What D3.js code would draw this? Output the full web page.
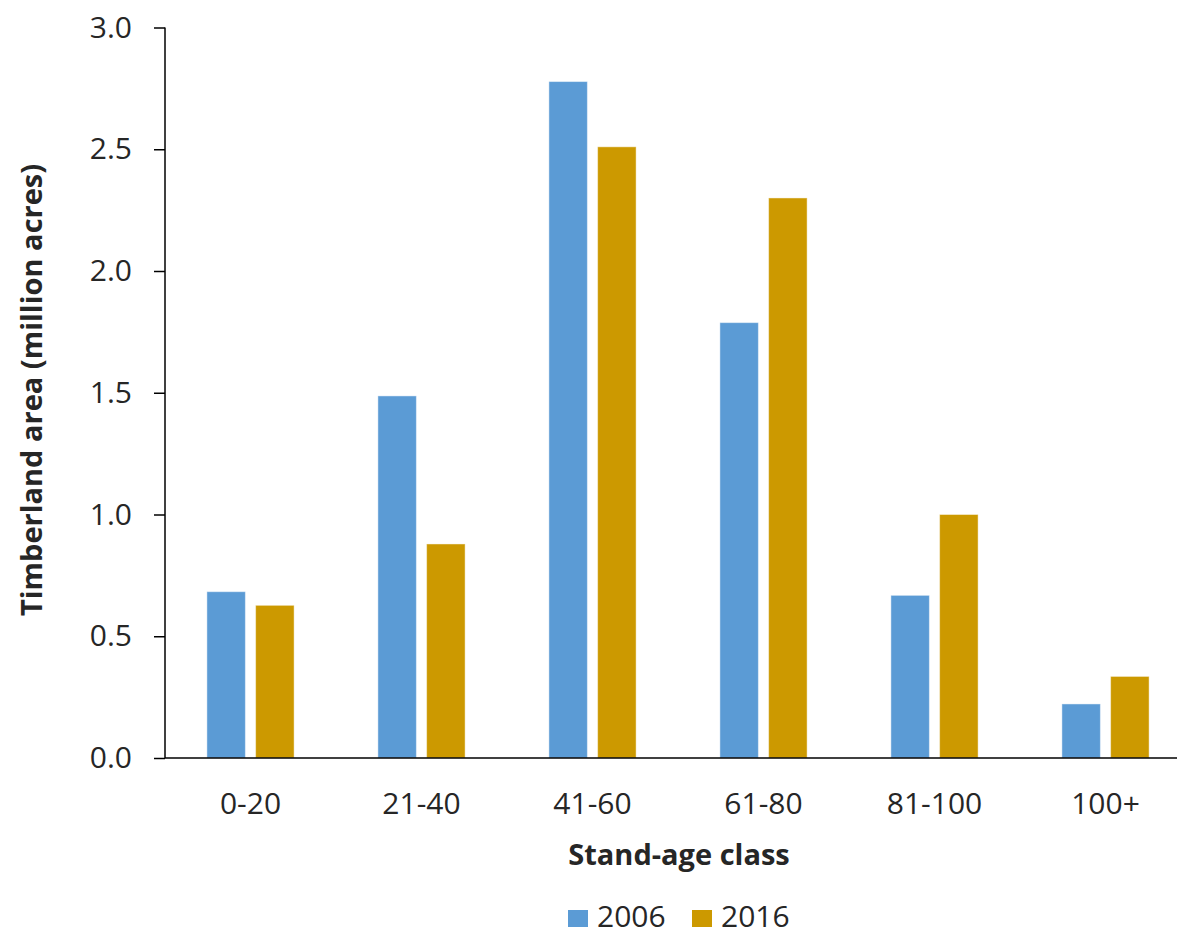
<!DOCTYPE html>
<html>
<head>
<meta charset="utf-8">
<script src="https://cdn.jsdelivr.net/npm/d3@7"></script>
<style>
  html, body { margin: 0; padding: 0; background: #fff; }
  svg { display: block; }
  text { font-family: "Open Sans", "Noto Sans", sans-serif; fill: #262626; }
</style>
</head>
<body>
<svg id="chart" width="1177" height="936"></svg>
<script>
// Timberland area by stand-age class, two inventory years
const categories = ["0-20", "21-40", "41-60", "61-80", "81-100", "100+"];
const seriesNames = ["2006", "2016"];
const values2006 = [0.683, 1.487, 2.778, 1.788, 0.668, 0.222];
const values2016 = [0.627, 0.879, 2.510, 2.300, 1.000, 0.335];
const yTicks = [0, 0.5, 1.0, 1.5, 2.0, 2.5, 3.0];
const colors = ["#5B9BD5", "#CC9900"];

const seriesValues = [values2006, values2016];
const rows = categories.map((c, i) => ({
  cat: c,
  vals: seriesNames.map((s, j) => ({ key: s, value: seriesValues[j][i], color: colors[j] }))
}));

const svg = d3.select("#chart");
const plotLeft = 165, plotRight = 1191, plotTop = 27.5, plotBottom = 758;
const labelSize = 30, titleSize = 29;

const x = d3.scaleBand().domain(categories).range([plotLeft, plotRight])
  .paddingInner(0.49).paddingOuter(0.245);
const x1 = d3.scaleBand().domain(seriesNames).range([0, x.bandwidth()]).paddingInner(0.21);
const y = d3.scaleLinear().domain([0, 3]).range([plotBottom, plotTop]);

// bars
const groups = svg.append("g").selectAll("g").data(rows).join("g")
  .attr("transform", d => `translate(${x(d.cat)},0)`);
groups.selectAll("rect").data(d => d.vals).join("rect")
  .attr("x", d => x1(d.key))
  .attr("width", x1.bandwidth())
  .attr("y", d => y(d.value))
  .attr("height", d => y(0) - y(d.value))
  .attr("fill", d => d.color)
  .attr("stroke", "rgba(255,255,255,0.45)")
  .attr("stroke-width", 1);

// y axis
const yAxis = svg.append("g").attr("transform", `translate(${plotLeft},0)`)
  .call(d3.axisLeft(y).tickValues(yTicks).tickFormat(d3.format(".1f")).tickSize(11).tickPadding(22));
yAxis.select(".domain").attr("stroke", "#000").attr("stroke-width", 1.5).attr("d", `M0,${plotTop}V${plotBottom}`);
yAxis.selectAll(".tick line").attr("stroke", "#000").attr("stroke-width", 1.5);
yAxis.selectAll(".tick text").attr("font-size", labelSize).attr("fill", "#262626");

// x axis baseline
const xAxis = svg.append("g").attr("transform", `translate(0,${plotBottom})`)
  .call(d3.axisBottom(x).tickSize(0));
xAxis.select(".domain").attr("stroke", "#000").attr("stroke-width", 1.5).attr("d", `M${plotLeft},0H1177`);
xAxis.selectAll(".tick text").attr("font-size", labelSize).attr("fill", "#262626")
  .attr("y", 56).attr("dy", 0);

// axis titles
svg.append("text")
  .attr("transform", "translate(42,390) rotate(-90)")
  .attr("text-anchor", "middle")
  .attr("font-size", titleSize).attr("font-weight", "bold")
  .text("Timberland area (million acres)");

svg.append("text")
  .attr("x", 679).attr("y", 865)
  .attr("text-anchor", "middle")
  .attr("font-size", titleSize).attr("font-weight", "bold")
  .text("Stand-age class");

// legend
const legend = svg.append("g").attr("transform", "translate(568,910)");
const items = legend.selectAll("g").data(seriesNames).join("g")
  .attr("transform", (d, i) => `translate(${i * 124},0)`);
items.append("rect").attr("width", 20).attr("height", 17).attr("fill", (d, i) => colors[i]);
items.append("text").attr("x", 29).attr("y", 17).attr("font-size", labelSize).text(d => d);
</script>
</body>
</html>
